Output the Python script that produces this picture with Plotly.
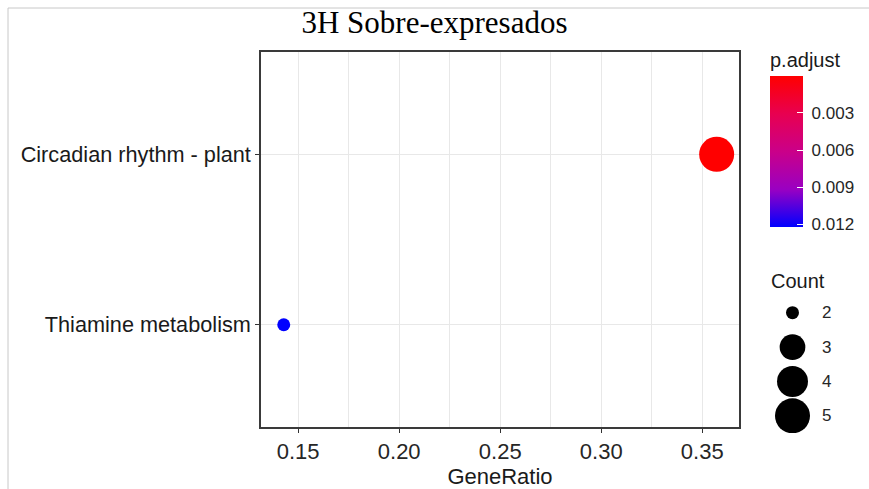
import numpy as np
import plotly.graph_objects as go

# Enrichment results
pathways = ["Circadian rhythm - plant", "Thiamine metabolism"]
gene_ratio = [5 / 14, 2 / 14]
counts = [5, 2]
p_adjust = [0.00004, 0.0122]

# Axis / legend labels
category_order = ["Thiamine metabolism", "Circadian rhythm - plant"]
x_ticks = [0.15, 0.20, 0.25, 0.30, 0.35]
cbar_ticks = [0.003, 0.006, 0.009, 0.012]
legend_counts = [2, 3, 4, 5]

W, H = 869, 489
SANS = "Liberation Sans, Arial, sans-serif"
SERIF = "Liberation Serif, Times New Roman, serif"


def px_x(v):
    return v / W


def px_y(v):
    return 1 - v / H


cmin_count, cmax_count = min(legend_counts), max(legend_counts)


def diam(c):
    # area-proportional size scale (13 px .. 35 px)
    return 13 + 22 * np.sqrt((c - cmin_count) / (cmax_count - cmin_count))


# red (small p) -> blue (large p), interpolated in Lab space
colorscale = [
    [0.0, "#0000FF"],
    [0.25, "#9A00C2"],
    [0.5, "#CA0089"],
    [0.75, "#E80050"],
    [1.0, "#FF0000"],
]

fig = go.Figure()

fig.add_trace(go.Scatter(
    x=gene_ratio,
    y=pathways,
    mode="markers",
    marker=dict(
        size=[diam(c) for c in counts],
        opacity=1,
        color=[-p for p in p_adjust],
        cmin=-max(p_adjust),
        cmax=-min(p_adjust),
        colorscale=colorscale,
        line=dict(width=0),
        showscale=True,
        colorbar=dict(
            title=dict(text="p.adjust", side="top",
                       font=dict(family=SANS, size=20, color="#1A1A1A")),
            x=px_x(770), xanchor="left",
            y=px_y(227), yanchor="bottom",
            len=178 / H, lenmode="fraction",
            thickness=33,
            outlinewidth=0,
            xpad=0, ypad=0,
            tickmode="array",
            tickvals=[-t for t in cbar_ticks],
            ticktext=["\u00a0" + f"{t:.3f}" for t in cbar_ticks],
            ticks="inside", ticklen=6, tickcolor="white", tickwidth=1,
            tickfont=dict(family=SANS, size=17, color="#262626"),
        ),
    ),
    showlegend=False,
    hoverinfo="skip",
))

# Size key for Count
fig.add_trace(go.Scatter(
    x=[0.5] * len(legend_counts),
    y=list(range(len(legend_counts))),
    mode="markers",
    marker=dict(size=[diam(c) for c in legend_counts], color="black",
                opacity=1, line=dict(width=0)),
    xaxis="x2", yaxis="y2",
    showlegend=False,
    hoverinfo="skip",
))

annotations = [
    dict(text="Count", x=px_x(769), y=px_y(281), xref="paper", yref="paper",
         xanchor="left", yanchor="middle", showarrow=False,
         font=dict(family=SANS, size=20, color="#1A1A1A")),
]
for i, c in enumerate(legend_counts):
    annotations.append(dict(
        text=str(c), x=px_x(820), y=i, xref="paper", yref="y2",
        xanchor="left", yanchor="middle", showarrow=False,
        font=dict(family=SANS, size=17, color="#262626")))

grid = "#E8E8E8"
fig.update_layout(
    width=W, height=H,
    margin=dict(l=0, r=0, t=0, b=0),
    paper_bgcolor="white",
    plot_bgcolor="white",
    title=dict(text="3H Sobre-expresados", x=0.5, xanchor="center",
               y=px_y(22), yanchor="middle", yref="container",
               font=dict(family=SERIF, size=31, color="black")),
    xaxis=dict(
        domain=[px_x(261), px_x(739)],
        range=[0.1316, 0.3682],
        tickmode="array", tickvals=x_ticks,
        ticktext=[f"{t:.2f}" for t in x_ticks],
        ticks="outside", ticklen=4, tickcolor="#333333", tickwidth=1,
        tickfont=dict(family=SANS, size=22, color="#262626"),
        showgrid=True, gridcolor=grid, gridwidth=1.4,
        minor=dict(dtick=0.025, tick0=0.125, showgrid=True,
                   gridcolor=grid, gridwidth=0.9, ticks=""),
        showline=True, linecolor="#3A3A3A", linewidth=1.6, mirror=True,
        zeroline=False,
        title=dict(text="GeneRatio", standoff=1,
                   font=dict(family=SANS, size=22, color="#1A1A1A")),
    ),
    yaxis=dict(
        domain=[1 - 427 / H, 1 - 52 / H],
        type="category",
        categoryorder="array", categoryarray=category_order,
        range=[-0.6, 1.6],
        ticks="outside", ticklen=4, tickcolor="#333333", tickwidth=1,
        tickfont=dict(family=SANS, size=21.7, color="#1A1A1A"),
        showgrid=True, gridcolor=grid, gridwidth=1.4,
        showline=True, linecolor="#3A3A3A", linewidth=1.6, mirror=True,
        zeroline=False,
    ),
    xaxis2=dict(domain=[px_x(770), px_x(815)], range=[0, 1], visible=False,
                anchor="y2", fixedrange=True),
    yaxis2=dict(domain=[1 - 433 / H, 1 - 295.5 / H], range=[3.5, -0.5],
                visible=False, anchor="x2", fixedrange=True),
    annotations=annotations,
    shapes=[
        dict(type="line", xref="paper", yref="paper",
             x0=px_x(8), x1=1, y0=px_y(8), y1=px_y(8),
             line=dict(color="#C8C8C8", width=1)),
        dict(type="line", xref="paper", yref="paper",
             x0=px_x(8), x1=px_x(8), y0=px_y(8), y1=0,
             line=dict(color="#C8C8C8", width=1)),
    ],
)

fig.write_html("out.html")
